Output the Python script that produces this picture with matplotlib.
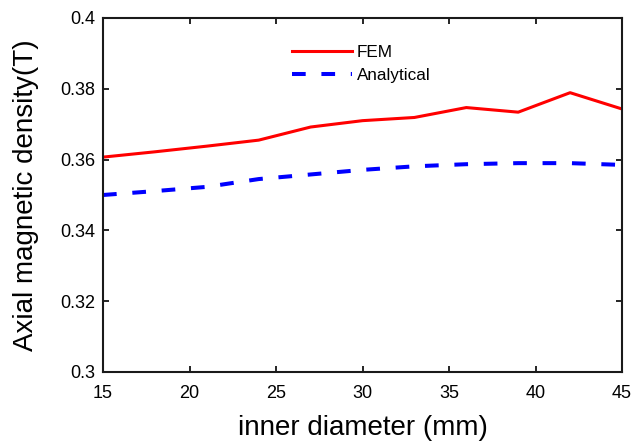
import matplotlib
matplotlib.use("Agg")
import matplotlib.pyplot as plt

plt.rcParams['font.family'] = ['Liberation Sans', 'DejaVu Sans']

x_vals = [15, 18, 21, 24, 27, 30, 33, 36, 39, 42, 45]
fem = [0.3607, 0.3622, 0.3638, 0.3655, 0.3692, 0.3710, 0.3719, 0.3747, 0.3734, 0.3789, 0.3743]
analytical = [0.3500, 0.3511, 0.3523, 0.3545, 0.3558, 0.3571, 0.3581, 0.3587, 0.3590, 0.3590, 0.3585]
xticks = [15, 20, 25, 30, 35, 40, 45]
yticks = [0.3, 0.32, 0.34, 0.36, 0.38, 0.4]
ytick_labels = ['0.3', '0.32', '0.34', '0.36', '0.38', '0.4']

fig = plt.figure(figsize=(6.34, 4.43), dpi=100)
ax = fig.add_axes([103/634, 1-372/443, (622-103)/634, (372-18)/443])

ax.plot(x_vals, fem, color='#ff0000', lw=2.2, label='FEM')
ax.plot(x_vals, analytical, color='#0000ff', lw=2.9, ls=(0, (3.4, 3.9)), label='Analytical')

ax.set_xlim(15, 45)
ax.set_ylim(0.3, 0.4)
ax.set_xticks(xticks)
ax.set_xticklabels([str(t) for t in xticks])
ax.set_yticks(yticks)
ax.set_yticklabels(ytick_labels)
ax.tick_params(direction='in', length=4, width=1.2, top=True, right=True, labelsize=13)
ax.tick_params(axis='x', pad=9)
ax.tick_params(axis='y', pad=5.5)
for s in ax.spines.values():
    s.set_linewidth(1.5)
    s.set_color('#1a1a1a')

ax.set_xlabel('inner diameter (mm)', fontsize=20)
ax.set_ylabel('Axial magnetic density(T)', fontsize=20)
ax.xaxis.set_label_coords(0.5, (372-415)/354)
ax.yaxis.set_label_coords((39-103)/519, 0.5)

leg = ax.legend(loc='upper left', bbox_to_anchor=((292-103)/519, 1-(45-18)/354), frameon=False,
                fontsize=12.3, handlelength=3.5, handletextpad=0.3, borderpad=0, labelspacing=0.45,
                borderaxespad=0)

fig.savefig('out.png', dpi=100)
